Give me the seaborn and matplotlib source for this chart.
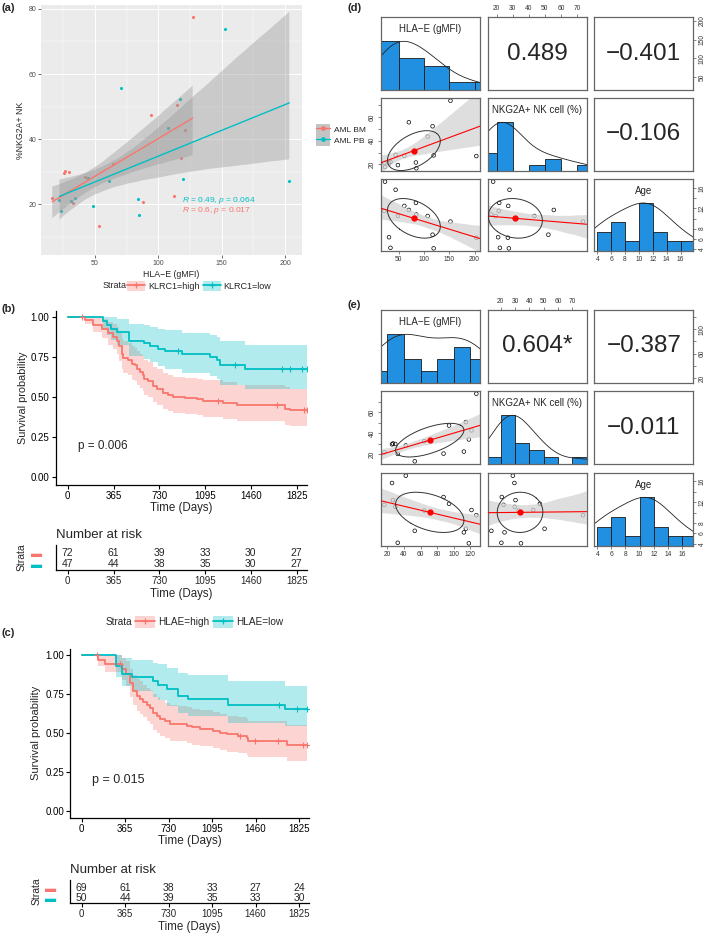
import numpy as np
import pandas as pd
import matplotlib
matplotlib.use("Agg")
import matplotlib.pyplot as plt
import seaborn as sns
from matplotlib.lines import Line2D
from matplotlib.patches import Patch
from matplotlib.legend_handler import HandlerTuple
from matplotlib.ticker import MultipleLocator

W, H = 709, 940
RED = "#F8766D"
TEAL = "#00BFC4"
HIST_BLUE = "#2290E0"

# ---- (a) / (d) / (e): HLA-E, NKG2A+ NK and age per patient ----
HLA_PB = [22.0, 23.2, 31.1, 34.0, 44.2, 48.7, 61.3, 70.3, 84.2, 85.0, 107.4, 117.1, 119.2, 152.4, 203.4]
NKG_PB = [21.3, 17.8, 20.9, 22.0, 28.0, 19.4, 27.2, 55.6, 21.6, 16.7, 43.5, 52.2, 27.6, 73.8, 27.0]
AGE_PB = [11.5, 17.3, 6.3, 4.2, 15.7, 10.5, 12.5, 11.7, 13.1, 10.8, 10.5, 6.8, 4.1, 9.4, 6.2]

HLA_BM = [16.3, 25.5, 26.6, 29.5, 32.4, 42.1, 52.9, 64.4, 87.6, 94.2, 112.1, 114.5, 118.1, 121.3, 127.1]
NKG_BM = [21.9, 29.5, 30.3, 29.8, 20.4, 28.4, 13.4, 32.5, 20.7, 47.3, 22.6, 50.6, 34.1, 42.7, 77.5]
AGE_BM = [11.5, 15.7, 12.4, 11.1, 4.2, 17.1, 6.5, 10.4, 13.0, 11.7, 6.2, 6.9, 4.1, 10.5, 9.5]

PAIR_NAMES = ["HLA\u2212E (gMFI)", "NKG2A+ NK cell (%)", "Age"]
CORR_D = ["0.489", "\u22120.401", "\u22120.106"]
CORR_E = ["0.604*", "\u22120.387", "\u22120.011"]
BINS_D = [[0, 50, 100, 150, 200, 250], [10, 20, 30, 40, 50, 60, 70, 80], [4, 6, 8, 10, 12, 14, 16, 18]]
BINS_E = [[0, 20, 40, 60, 80, 100, 120, 140], [10, 20, 30, 40, 50, 60, 70, 80], [4, 6, 8, 10, 12, 14, 16, 18]]

# ---- (b) KLRC1 survival ----
T_B_HIGH = [0, 138, 205, 271, 324, 364, 390, 412, 430, 444, 483, 510, 537, 555, 576, 598, 611, 643, 683,
            709, 757, 802, 842, 935, 1028, 1081, 1235, 1352, 1732, 1772]
S_B_HIGH = [1.0, 0.985, 0.955, 0.93, 0.90, 0.88, 0.85, 0.82, 0.77, 0.745, 0.735, 0.71, 0.70, 0.675, 0.66,
            0.64, 0.615, 0.60, 0.57, 0.55, 0.53, 0.515, 0.505, 0.495, 0.49, 0.48, 0.465, 0.45, 0.43, 0.42]
U_B_HIGH = [1.0, 1.0, 1.0, 0.99, 0.97, 0.96, 0.94, 0.91, 0.87, 0.85, 0.84, 0.82, 0.81, 0.79, 0.77, 0.76,
            0.735, 0.72, 0.69, 0.675, 0.655, 0.64, 0.63, 0.62, 0.615, 0.61, 0.595, 0.58, 0.565, 0.555]
L_B_HIGH = [1.0, 0.957, 0.91, 0.87, 0.83, 0.80, 0.77, 0.73, 0.68, 0.65, 0.64, 0.61, 0.60, 0.575, 0.56, 0.54,
            0.515, 0.50, 0.47, 0.45, 0.43, 0.415, 0.405, 0.395, 0.39, 0.38, 0.365, 0.35, 0.33, 0.32]
C_B_HIGH = [112, 1200, 1665, 1880, 1904]

T_B_LOW = [0, 279, 311, 345, 396, 491, 608, 656, 722, 776, 908, 1134, 1187, 1214, 1413]
S_B_LOW = [1.0, 0.975, 0.95, 0.93, 0.91, 0.855, 0.84, 0.82, 0.80, 0.79, 0.77, 0.75, 0.735, 0.70, 0.675]
U_B_LOW = [1.0, 1.0, 1.0, 1.0, 0.99, 0.96, 0.95, 0.94, 0.925, 0.92, 0.905, 0.89, 0.88, 0.85, 0.83]
L_B_LOW = [1.0, 0.93, 0.89, 0.86, 0.83, 0.76, 0.74, 0.72, 0.695, 0.68, 0.655, 0.635, 0.615, 0.58, 0.555]
C_B_LOW = [882, 1333, 1705, 1772, 1864, 1904]
END_B = 1904

# ---- (c) HLAE survival ----
T_C_HIGH = [0, 140, 196, 336, 372, 406, 434, 462, 490, 518, 546, 574, 602, 630, 658, 700, 742, 812, 882,
            924, 994, 1106, 1162, 1218, 1316, 1386, 1400, 1721]
S_C_HIGH = [1.0, 0.97, 0.94, 0.91, 0.88, 0.82, 0.77, 0.74, 0.72, 0.70, 0.68, 0.66, 0.63, 0.61, 0.59, 0.575,
            0.56, 0.555, 0.545, 0.535, 0.525, 0.515, 0.50, 0.49, 0.48, 0.47, 0.45, 0.42]
U_C_HIGH = [1.0, 1.0, 1.0, 0.98, 0.96, 0.91, 0.87, 0.845, 0.83, 0.81, 0.79, 0.775, 0.75, 0.73, 0.71, 0.695,
            0.68, 0.675, 0.665, 0.655, 0.645, 0.635, 0.62, 0.61, 0.60, 0.59, 0.575, 0.55]
L_C_HIGH = [1.0, 0.93, 0.89, 0.84, 0.80, 0.73, 0.68, 0.64, 0.62, 0.60, 0.575, 0.555, 0.52, 0.50, 0.48, 0.465,
            0.45, 0.445, 0.435, 0.425, 0.415, 0.405, 0.39, 0.38, 0.37, 0.36, 0.345, 0.32]
C_C_HIGH = [126, 322, 1330, 1455, 1651, 1861, 1889]

T_C_LOW = [0, 288, 336, 420, 602, 644, 714, 812, 896, 1225, 1707]
S_C_LOW = [1.0, 0.93, 0.88, 0.86, 0.83, 0.81, 0.78, 0.74, 0.72, 0.68, 0.655]
U_C_LOW = [1.0, 1.0, 0.98, 0.97, 0.95, 0.94, 0.915, 0.885, 0.87, 0.835, 0.80]
L_C_LOW = [1.0, 0.86, 0.80, 0.77, 0.73, 0.71, 0.67, 0.63, 0.61, 0.565, 0.545]
C_C_LOW = [1658, 1805, 1889]
END_C = 1889

RISK_TIMES = [0, 365, 730, 1095, 1460, 1825]
RISK_B_HIGH = [72, 61, 39, 33, 30, 27]
RISK_B_LOW = [47, 44, 38, 35, 30, 27]
RISK_C_HIGH = [69, 61, 38, 33, 27, 24]
RISK_C_LOW = [50, 44, 39, 35, 33, 30]

sns.set_theme(style="white")
plt.rcParams["font.family"] = ["Liberation Sans", "DejaVu Sans"]
plt.rcParams["mathtext.fontset"] = "custom"
plt.rcParams["mathtext.rm"] = "Liberation Sans"
plt.rcParams["mathtext.it"] = "Liberation Sans:italic"

fig = plt.figure(figsize=(W / 100, H / 100), dpi=100)


def box(x0, y0, x1, y1):
    # pixel box (top-left origin) -> figure fraction rect
    return [x0 / W, 1 - y1 / H, (x1 - x0) / W, (y1 - y0) / H]


# ================= (a) scatter with lm fits =================
ax = fig.add_axes(box(41, 5, 302, 255))
ax.set_facecolor("#EBEBEB")
df_a = pd.DataFrame({
    "hla": HLA_BM + HLA_PB,
    "nkg": NKG_BM + NKG_PB,
    "tissue": ["AML BM"] * len(HLA_BM) + ["AML PB"] * len(HLA_PB),
})
for name, color in [("AML BM", RED), ("AML PB", TEAL)]:
    sub = df_a[df_a["tissue"] == name]
    sns.regplot(data=sub, x="hla", y="nkg", ax=ax, color=color, seed=3, n_boot=2000, ci=82,
                scatter_kws=dict(s=5, linewidths=0, alpha=1, zorder=2),
                line_kws=dict(lw=1.0, zorder=4))
    ax.collections[-1].set(facecolor="#999999", alpha=0.4, zorder=3, edgecolor="none")
ax.set_xlim(7.4, 213.4)
ax.set_ylim(4.4, 81.2)
ax.set_xticks([50, 100, 150, 200])
ax.set_yticks([20, 40, 60, 80])
ax.xaxis.set_minor_locator(MultipleLocator(25))
ax.yaxis.set_minor_locator(MultipleLocator(10))
ax.grid(which="major", color="white", lw=0.7)
ax.grid(which="minor", color="white", lw=0.35)
ax.set_axisbelow(True)
for sp in ax.spines.values():
    sp.set_visible(False)
ax.tick_params(which="minor", length=0)
ax.tick_params(which="major", bottom=True, left=True, length=2, width=0.5, color="#333333",
               labelsize=5, labelcolor="#4D4D4D", pad=1.5)
ax.set_xlabel("HLA\u2212E (gMFI)", fontsize=6.3, labelpad=2)
ax.set_ylabel("%NKG2A+ NK", fontsize=6.3, labelpad=2)
ax.text(119, 21.1, r"$\it{R}$ = 0.49, $\it{p}$ = 0.064", color=TEAL, fontsize=6, va="center")
ax.text(119, 18.0, r"$\it{R}$ = 0.6, $\it{p}$ = 0.017", color=RED, fontsize=6, va="center")
hd = [(Patch(facecolor="#C4C4C4", edgecolor="none"),
       Line2D([], [], color=c, lw=1, marker="o", ms=2.4)) for c in (RED, TEAL)]
fig.legend(hd, ["AML BM", "AML PB"], loc="center left", bbox_to_anchor=(312 / W, 1 - 135 / H),
           frameon=False, fontsize=6, handlelength=1.6, handleheight=1.6, handletextpad=0.5,
           labelspacing=0.05, borderpad=0, handler_map={tuple: HandlerTuple(ndivide=1, pad=0)})


# ================= (b), (c) Kaplan-Meier =================
def draw_km(ax, times, surv, lower, upper, cens, end, color):
    t = list(times) + [end]
    s = list(surv) + [surv[-1]]
    lo = list(lower) + [lower[-1]]
    hi = list(upper) + [upper[-1]]
    ax.fill_between(t, lo, hi, step="post", color=color, alpha=0.3, lw=0)
    sns.lineplot(x=t, y=s, ax=ax, color=color, lw=1.3, drawstyle="steps-post",
                 estimator=None, sort=False)
    idx = np.searchsorted(times, cens, side="right") - 1
    sns.scatterplot(x=cens, y=np.array(surv)[idx], ax=ax, marker="+", s=18, color=color,
                    linewidth=0.8, zorder=3)


def km_style(ax, tick_fs):
    ax.set_xlim(-95, 1905)
    ax.set_ylim(-0.045, 1.04)
    ax.set_xticks(RISK_TIMES)
    ax.set_yticks([0, 0.25, 0.5, 0.75, 1.0])
    ax.set_yticklabels(["0.00", "0.25", "0.50", "0.75", "1.00"])
    for side in ("top", "right"):
        ax.spines[side].set_visible(False)
    for side in ("left", "bottom"):
        ax.spines[side].set_color("black")
        ax.spines[side].set_linewidth(0.9)
    ax.tick_params(bottom=True, left=True, length=3, width=0.8, color="black",
                   labelsize=tick_fs, labelcolor="black", pad=1.5)


def risk_table(rect, high, low, ylim, tick_fs, num_fs):
    ax = fig.add_axes(rect)
    ax.set_xlim(-95, 1905)
    ax.set_ylim(*ylim)
    for k, t in enumerate(RISK_TIMES):
        ax.text(t, 2, str(high[k]), ha="center", va="center", fontsize=num_fs)
        ax.text(t, 1, str(low[k]), ha="center", va="center", fontsize=num_fs)
    ax.set_xticks(RISK_TIMES)
    ax.set_yticks([2, 1])
    ax.set_yticklabels(["\u25ac", "\u25ac"], fontsize=8)
    for lab, c in zip(ax.get_yticklabels(), (RED, TEAL)):
        lab.set_color(c)
    for side in ("top", "right"):
        ax.spines[side].set_visible(False)
    for side in ("left", "bottom"):
        ax.spines[side].set_color("black")
        ax.spines[side].set_linewidth(0.9)
    ax.tick_params(axis="x", bottom=True, length=3, width=0.8, color="black",
                   labelsize=tick_fs, pad=1.5)
    ax.tick_params(axis="y", left=False, pad=4)
    ax.set_ylabel("Strata", fontsize=7.5, labelpad=3)
    ax.set_xlabel("Time (Days)", fontsize=8.3, labelpad=1)
    ax.set_title("Number at risk", loc="left", fontsize=9.5, pad=5)
    return ax


def km_legend(y, strata_x, leg_x, labels, fs):
    fig.text(strata_x / W, 1 - y / H, "Strata", fontsize=fs, va="center")
    hd = [(Patch(facecolor=c, alpha=0.3, edgecolor="none"),
           Line2D([], [], color=c, lw=1.3, marker="+", ms=4.5, mew=0.9)) for c in (RED, TEAL)]
    fig.legend(hd, labels, loc="center left", bbox_to_anchor=(leg_x / W, 1 - y / H), ncol=2,
               frameon=False, fontsize=fs, handlelength=2.0, handleheight=1.4, handletextpad=0.3,
               columnspacing=0.4, borderpad=0, borderaxespad=0,
               handler_map={tuple: HandlerTuple(ndivide=1, pad=0)})


# (b)
axb = fig.add_axes(box(55.8, 311, 306.7, 484.5))
draw_km(axb, T_B_HIGH, S_B_HIGH, L_B_HIGH, U_B_HIGH, C_B_HIGH, END_B, RED)
draw_km(axb, T_B_LOW, S_B_LOW, L_B_LOW, U_B_LOW, C_B_LOW, END_B, TEAL)
km_style(axb, 7)
axb.set_ylabel("Survival probability", fontsize=7.8, labelpad=2)
axb.set_xlabel("Time (Days)", fontsize=8.3, labelpad=1)
axb.text(82, 0.196, "p = 0.006", fontsize=8.5, va="center")
km_legend(286, 103, 127, ["KLRC1=high", "KLRC1=low"], 6.5)
risk_table(box(55.8, 545, 306.7, 570), RISK_B_HIGH, RISK_B_LOW, (0.44, 2.78), 7, 7.5)

# (c)
axc = fig.add_axes(box(70.4, 648.8, 308.5, 817.7))
draw_km(axc, T_C_HIGH, S_C_HIGH, L_C_HIGH, U_C_HIGH, C_C_HIGH, END_C, RED)
draw_km(axc, T_C_LOW, S_C_LOW, L_C_LOW, U_C_LOW, C_C_LOW, END_C, TEAL)
km_style(axc, 7)
axc.set_ylabel("Survival probability", fontsize=8, labelpad=3)
axc.set_xlabel("Time (Days)", fontsize=8.5, labelpad=1)
axc.text(86, 0.197, "p = 0.015", fontsize=9, va="center")
km_legend(622, 106, 135, ["HLAE=high", "HLAE=low"], 7.2)
risk_table(box(70.4, 880, 308.5, 903), RISK_C_HIGH, RISK_C_LOW, (0.5, 2.8), 7, 7.5)

# ================= (d), (e) pairs panels =================
PAIR_COLS = [(380.7, 480), (487.7, 586.7), (594.3, 693.3)]
D_ROWS = [(17, 90), (98, 171), (179, 251)]
E_ROWS = [(310, 383), (391, 464), (473, 546)]

AGE_TICKS = [4, 6, 8, 10, 12, 14, 16]
NKG_TICKS = [20, 30, 40, 50, 60, 70]
TICKS_D = {
    (0, 1): [("top", NKG_TICKS, [str(v) for v in NKG_TICKS])],
    (0, 2): [("right", [50, 100, 150, 200], ["50", "100", "150", "200"])],
    (1, 0): [("left", NKG_TICKS, ["20", "", "40", "", "60", ""])],
    (2, 0): [("bottom", [50, 100, 150, 200], ["50", "100", "150", "200"])],
    (2, 2): [("bottom", AGE_TICKS, [str(v) for v in AGE_TICKS]),
             ("right", AGE_TICKS, ["4", "6", "8", "", "12", "", "16"])],
}
TICKS_E = {
    (0, 1): [("top", NKG_TICKS, [str(v) for v in NKG_TICKS])],
    (0, 2): [("right", [20, 40, 60, 80, 100, 120], ["20", "", "60", "", "100", ""])],
    (1, 0): [("left", NKG_TICKS, ["20", "", "40", "", "60", ""])],
    (2, 0): [("bottom", [20, 40, 60, 80, 100, 120], ["20", "40", "60", "80", "100", "120"])],
    (2, 2): [("bottom", AGE_TICKS, [str(v) for v in AGE_TICKS]),
             ("right", AGE_TICKS, ["4", "6", "8", "", "12", "", "16"])],
}


def add_ticks(ax, side, pos, labs):
    kw = dict(length=2.5, width=0.5, color="#555555", labelsize=4.8, labelcolor="#333333", pad=1.2)
    if side in ("top", "bottom"):
        ax.set_xticks(pos)
        ax.set_xticklabels(labs)
        ax.xaxis.set_ticks_position(side)
        ax.tick_params(axis="x", **kw)
    else:
        ax.set_yticks(pos)
        ax.set_yticklabels(labs, rotation=90, va="center")
        ax.yaxis.set_ticks_position(side)
        ax.tick_params(axis="y", **kw)


def pairs(rows, hla, nkg, age, corr, bins, ticks, seed):
    vals = [np.asarray(hla), np.asarray(nkg), np.asarray(age)]
    lims = [(v.min() - 0.04 * np.ptp(v), v.max() + 0.04 * np.ptp(v)) for v in vals]
    k = 0
    for i in range(3):
        for j in range(3):
            ax = fig.add_axes(box(PAIR_COLS[j][0], rows[i][0], PAIR_COLS[j][1], rows[i][1]))
            tick_ax = ax
            if i == j:
                v = vals[i]
                sns.histplot(x=v, bins=bins[i], ax=ax, color=HIST_BLUE, edgecolor="#1a1a1a",
                             linewidth=0.6, alpha=1)
                top = np.histogram(v, bins=bins[i])[0].max()
                sns.kdeplot(x=v, ax=ax, color="#222222", lw=0.6, bw_adjust=1.27)
                line = ax.lines[-1]
                yd = line.get_ydata()
                line.set_ydata(yd / yd.max() * top)
                ax.set_xlim(lims[i])
                ax.set_ylim(0, 1.5 * top)
                ax.text(0.5, 0.83, PAIR_NAMES[i], transform=ax.transAxes, ha="center",
                        va="center", fontsize=7)
                if any(s in ("left", "right") for s, _, _ in ticks.get((i, j), [])):
                    tick_ax = ax.twinx()
                    tick_ax.set_ylim(lims[i])
                    for sp in tick_ax.spines.values():
                        sp.set_visible(False)
                    tick_ax.set_yticks([])
            elif i > j:
                ax.set_xlim(lims[j])
                ax.set_ylim(lims[i])
                sns.regplot(x=vals[j], y=vals[i], ax=ax, truncate=False, seed=seed, n_boot=1000,
                            ci=82,
                            scatter_kws=dict(s=7, facecolors="none", edgecolors="black",
                                             linewidths=0.5, alpha=1, zorder=1),
                            line_kws=dict(color="red", lw=0.8, zorder=4))
                ax.collections[-1].set(facecolor="#D3D3D3", alpha=0.75, zorder=2, edgecolor="none")
                mx, my = vals[j].mean(), vals[i].mean()
                sx, sy = vals[j].std(ddof=1), vals[i].std(ddof=1)
                r = np.corrcoef(vals[j], vals[i])[0, 1]
                ang = np.linspace(0, 2 * np.pi, 120)
                th = np.sign(r) / np.sqrt(2)
                ex = np.cos(ang) * np.sqrt(1 + r) * th - np.sin(ang) * np.sqrt(1 - r) * th
                ey = np.cos(ang) * np.sqrt(1 + r) * th + np.sin(ang) * np.sqrt(1 - r) * th
                ax.plot(mx + ex * sx, my + ey * sy, color="#333333", lw=0.7, zorder=5)
                ax.plot(mx, my, "o", color="red", ms=3.5, zorder=6)
                ax.set_xlim(lims[j])
                ax.set_ylim(lims[i])
            else:
                ax.set_xlim(lims[j])
                ax.set_ylim(lims[i])
                ax.text(0.5, 0.5, corr[k], transform=ax.transAxes, ha="center", va="center",
                        fontsize=17.5)
                k += 1
            ax.set_xlabel("")
            ax.set_ylabel("")
            ax.set_xticks([])
            ax.set_yticks([])
            for sp in ax.spines.values():
                sp.set_visible(True)
                sp.set_color("#666666")
                sp.set_linewidth(0.9)
            for side, pos, labs in ticks.get((i, j), []):
                target = tick_ax if side in ("left", "right") else ax
                add_ticks(target, side, pos, labs)


pairs(D_ROWS, HLA_PB, NKG_PB, AGE_PB, CORR_D, BINS_D, TICKS_D, 5)
pairs(E_ROWS, HLA_BM, NKG_BM, AGE_BM, CORR_E, BINS_E, TICKS_E, 7)

# panel letters
for lab, x, y in [("(a)", 2, 8), ("(b)", 2, 309), ("(c)", 2, 633), ("(d)", 347, 8), ("(e)", 347, 305)]:
    fig.text(x / W, 1 - y / H, lab, fontsize=8, fontweight="bold", va="center")

fig.savefig("out.png", dpi=100)
